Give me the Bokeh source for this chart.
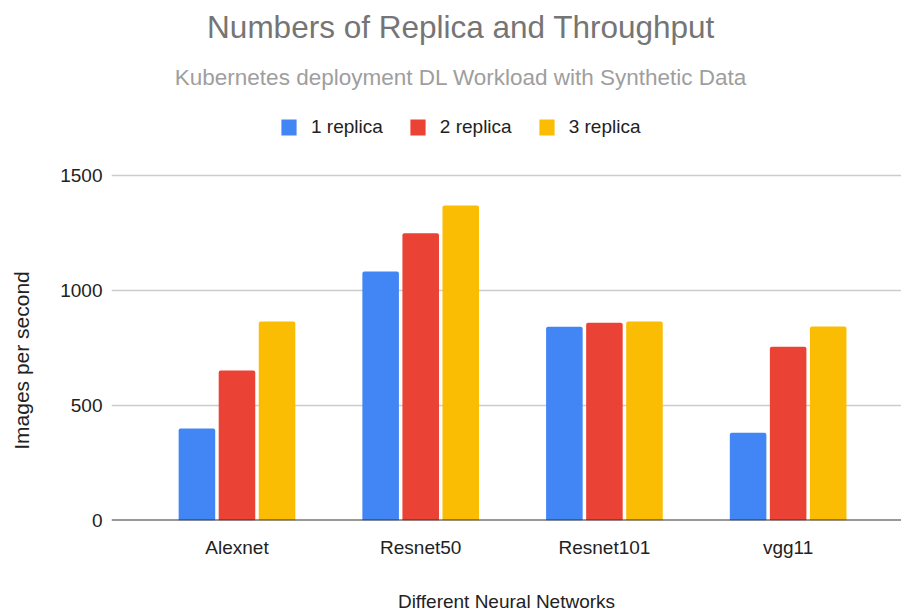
import math
from bokeh.plotting import figure
from bokeh.layouts import row
from bokeh.models import (ColumnDataSource, Range1d, FixedTicker, Legend, LegendItem,
                          Label, Span)
from bokeh.transform import dodge
from bokeh.embed import file_html
from bokeh.resources import INLINE

# ---- data ----
categories = ["Alexnet", "Resnet50", "Resnet101", "vgg11"]
series_names = ["1 replica", "2 replica", "3 replica"]
replica_1 = [400, 1083, 842, 382]
replica_2 = [652, 1249, 860, 755]
replica_3 = [865, 1370, 865, 843]
y_ticks = [0, 500, 1000, 1500]

colors = ["#4285F4", "#EA4335", "#FBBC04"]
FONT = "Liberation Sans"

positions = list(range(len(categories)))
source = ColumnDataSource(dict(x=positions, r1=replica_1, r2=replica_2, r3=replica_3))

STRIP = 45  # narrow strip on the left that carries the vertical axis title

# main chart: frame from 111px to the right edge; y from the canvas top to the baseline
# (the upper part of the frame carries the titles and legend; grid only up to 1500)
p = figure(width=901 - STRIP, height=614, output_backend="svg", toolbar_location=None,
           x_range=Range1d(-0.683, 3.617), y_range=Range1d(0, 2260.9),
           min_border_left=111 - STRIP, min_border_right=0, min_border_top=0,
           min_border_bottom=94)
p.outline_line_color = None
p.background_fill_color = "white"
p.border_fill_color = "white"

offset = 0.218
bw = 0.199
renderers = []
for col, off, c in zip(["r1", "r2", "r3"], [-offset, 0, offset], colors):
    r = p.vbar(x=dodge("x", off), top=col, width=bw, source=source,
               fill_color=c, line_color=None, border_radius=(2, 2, 0, 0))
    renderers.append(r)

# baseline
p.add_layout(Span(location=0, dimension="width", line_color="#333333", line_width=2))

# axes
p.xaxis.ticker = FixedTicker(ticks=positions)
p.xaxis.major_label_overrides = {i: n for i, n in enumerate(categories)}
p.xaxis.major_tick_line_color = None
p.xaxis.minor_tick_line_color = None
p.xaxis.major_tick_out = 0
p.xaxis.major_tick_in = 0
p.xaxis.axis_line_color = None
p.xaxis.major_label_standoff = 16
p.xaxis.major_label_text_font = FONT
p.xaxis.major_label_text_font_size = "19px"
p.xaxis.major_label_text_color = "#222222"
p.xaxis.axis_label = "Different Neural Networks"
p.xaxis.axis_label_standoff = 30
p.xaxis.axis_label_text_font = FONT
p.xaxis.axis_label_text_font_size = "19px"
p.xaxis.axis_label_text_font_style = "normal"
p.xaxis.axis_label_text_color = "#222222"

p.yaxis.ticker = FixedTicker(ticks=y_ticks)
p.yaxis.axis_line_color = None
p.yaxis.major_tick_line_color = None
p.yaxis.minor_tick_line_color = None
p.yaxis.major_tick_out = 0
p.yaxis.major_tick_in = 0
p.yaxis.major_label_standoff = 9
p.yaxis.major_label_text_font = FONT
p.yaxis.major_label_text_font_size = "19px"
p.yaxis.major_label_text_color = "#222222"

p.xgrid.grid_line_color = None
p.ygrid.ticker = FixedTicker(ticks=y_ticks)
p.ygrid.grid_line_color = "#cccccc"
p.ygrid.grid_line_width = 1.5

# legend
legend = Legend(items=[LegendItem(label=n, renderers=[r]) for n, r in zip(series_names, renderers)],
                location=(168, 382), orientation="horizontal",
                glyph_width=19, glyph_height=20, label_standoff=13, spacing=25,
                label_text_font=FONT, label_text_font_size="19px",
                label_text_color="#222222", label_height=20,
                padding=0, margin=0, border_line_color=None,
                background_fill_alpha=0)
p.add_layout(legend, "center")

# title and subtitle
p.add_layout(Label(x=349.5, y=494, x_units="screen", y_units="screen",
                   text="Numbers of Replica and Throughput", text_align="center",
                   text_baseline="alphabetic", text_font=FONT,
                   text_font_size="31.5px", text_color="#757575"))
p.add_layout(Label(x=349.5, y=443, x_units="screen", y_units="screen",
                   text="Kubernetes deployment DL Workload with Synthetic Data",
                   text_align="center", text_baseline="alphabetic", text_font=FONT,
                   text_font_size="22.5px", text_color="#9e9e9e"))

# left strip with the vertical axis title (its frame is aligned with the main frame)
side = figure(width=STRIP, height=614, output_backend="svg", toolbar_location=None,
              x_axis_type=None, y_axis_type=None, min_border=0,
              x_range=Range1d(0, 1), y_range=Range1d(0, 1))
side.outline_line_color = None
side.grid.visible = False
side.background_fill_color = "white"
side.border_fill_color = "white"
side.add_layout(Label(x=21, y=160, x_units="screen", y_units="screen",
                      text="Images per second", angle=math.pi / 2,
                      text_align="center", text_baseline="middle", text_font=FONT,
                      text_font_size="21px", text_color="#222222"))

layout = row(side, p, spacing=0)
open("out.html", "w").write(file_html(layout, INLINE))
